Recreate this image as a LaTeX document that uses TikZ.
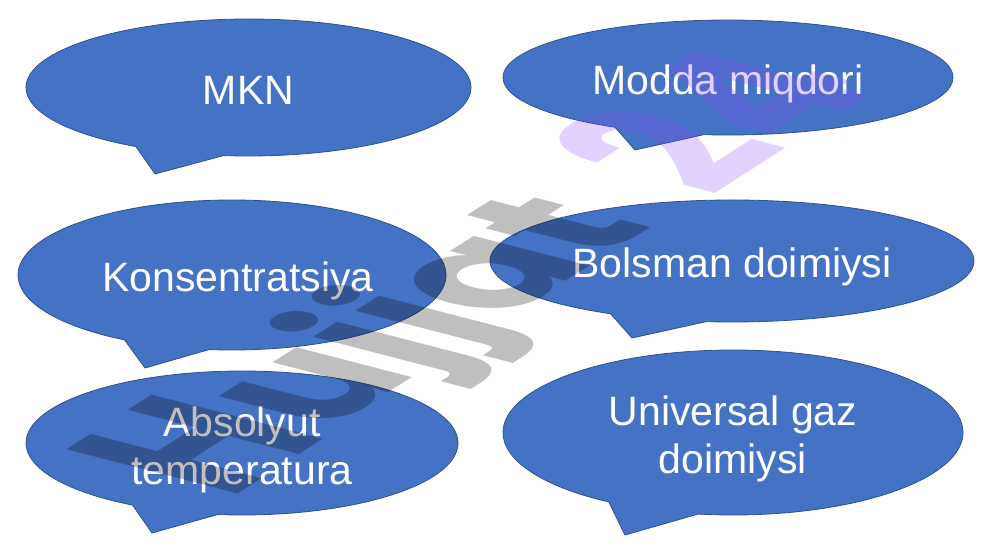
\documentclass[tikz,border=0pt]{standalone}
\usepackage{fontspec}
\setmainfont{Liberation Sans}
\newfontfamily\stampfont{Poppins}
\usetikzlibrary{shapes.callouts}
\definecolor{bubblefill}{RGB}{68,114,196}
\definecolor{bubbleline}{RGB}{47,82,143}
\definecolor{stampviolet}{RGB}{136,76,255}
\begin{document}
\begin{tikzpicture}[x = 1pt, y = -1pt,
		bubble/.style = {ellipse callout, draw = bubbleline, fill = bubblefill, line width = 0.8pt,
			inner sep = 0pt, outer sep = 0pt, callout pointer arc = 24, text = white, align = center,
			font = \fontsize{41}{48}\selectfont, text height = 36pt, text depth = 2pt},
		twolines/.style = {text height = 84pt},
		stamp/.style = {transform shape, anchor = base west, inner sep = 0pt, text = black,
			text opacity = 0.25, font = \stampfont\fontsize{100}{100}\selectfont\bfseries}]
		\useasboundingbox (0, 0) rectangle (983, 553) ;
		\node [bubble, minimum width = 445pt, minimum height = 137pt, callout absolute pointer = {(155, 174)}]
			(mkn) at (248.5, 87.5) {MKN} ;
		\node [bubble, minimum width = 450pt, minimum height = 115pt, callout absolute pointer = {(635, 150)}]
			(modda) at (728, 77.5) {Modda miqdori} ;
		\node [bubble, minimum width = 428pt, minimum height = 150pt, callout absolute pointer = {(145, 368)}]
			(konsent) at (232, 275) {\kern12pt Konsentratsiya} ;
		\node [bubble, minimum width = 484pt, minimum height = 122pt, callout absolute pointer = {(632, 338)}]
			(bolsman) at (732, 261) {Bolsman doimiysi} ;
		\node [bubble, twolines, minimum width = 432pt, minimum height = 144pt, callout absolute pointer = {(152, 533)}]
			(absolyut) at (242, 443) {Absolyut\\temperatura} ;
		\node [bubble, twolines, minimum width = 460pt, minimum height = 165pt, callout absolute pointer = {(625, 535)}]
			(universal) at (733, 432.5) {Universal gaz\\doimiysi} ;
		\node [stamp, cm = {1.40, 0.90, -2.44, 0.63, (229, 500)}] (stamph) at (0, 0) {H} ;
		\node [stamp, cm = {1.40, 0.88, -2.07, 0.535, (224, 496)}] (stampujjat) at (0, 0) {\phantom{H}ujjat} ;
		\node [stamp, cm = {1.40, 0.90, -2.44, 0.63, (252, 494)}] (stampnum) at (0, 0) {\phantom{Hujjat }{\color{stampviolet}24}} ;
	\end{tikzpicture}
\end{document}
